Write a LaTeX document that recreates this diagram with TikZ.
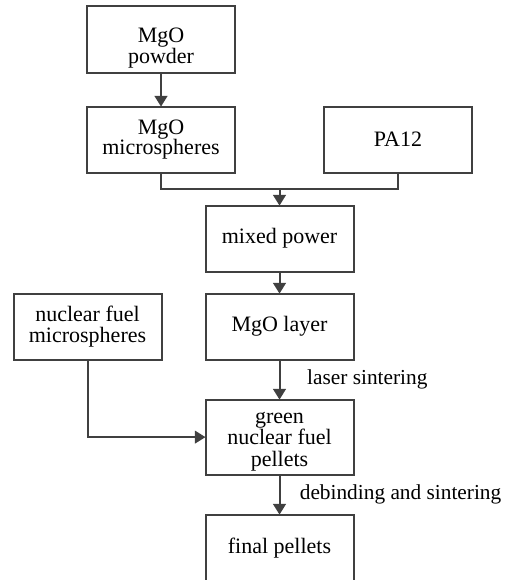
\documentclass[tikz,border=0pt]{standalone}
\usepackage{fontspec}
\setmainfont{Liberation Serif}
\usetikzlibrary{positioning,arrows.meta,calc}
\definecolor{linegray}{HTML}{404040}

\begin{document}
\begin{tikzpicture}[x = 0.75pt, y = -0.75pt,
  stepbox/.style = {draw = linegray, line width = 1.5pt, outer sep = 0pt, shape = rectangle, minimum width = 111pt, minimum height = 49.5pt, align = center, font = \fontsize{16.5}{15.5}\selectfont},
  flow/.style = {draw = linegray, line width = 1.5pt, -{Triangle[length = 8pt, width = 9.5pt]}},
  note/.style = {anchor = west, inner sep = 0pt, font = \fontsize{16}{15}\selectfont}]
\useasboundingbox (0,0) rectangle (508,580);
\node[stepbox] (powder) at (161,39.5) {\rule{0pt}{24pt}MgO\\powder};
\node[stepbox, below = 25.5pt of powder] (micro) {MgO\\microspheres};
\node[stepbox, right = 66.75pt of micro] (pa12) {PA12};
\coordinate (join) at ($(micro.south)!.5!(pa12.south) + (0,16)$);
\node[stepbox, below = 12.75pt of join] (mixed) {mixed power};
\node[stepbox, below = 16.5pt of mixed] (layer) {MgO layer};
\node[stepbox, left = 33pt of layer] (fuel) {nuclear fuel\\microspheres};
\node[stepbox, below = 30pt of layer, minimum height = 56.25pt, inner ysep = 2pt, font = \fontsize{16.5}{16.3}\selectfont] (green) {\rule{0pt}{15pt}green\\nuclear fuel\\pellets};
\node[stepbox, below = 30pt of green] (final) {final pellets};
\begin{scope}[line width = 1.5pt, draw = linegray]
\draw (micro.south) |- (join) -| (pa12.south);
\draw[flow] (powder) -- (micro);
\draw[flow] (join) -- (mixed);
\draw[flow] (mixed) -- (layer);
\draw[flow] (layer) -- (green) node[note, midway, xshift = 20pt] {laser sintering};
\draw[flow] (fuel.south) |- (green.west);
\draw[flow] (green) -- (final) node[note, midway, xshift = 14.5pt] {debinding and sintering};
\end{scope}
\end{tikzpicture}
\end{document}
